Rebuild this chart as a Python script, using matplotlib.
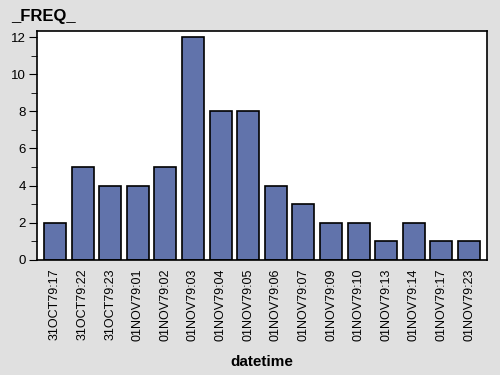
import matplotlib.pyplot as plt
from matplotlib.ticker import MultipleLocator

plt.rcParams['font.family'] = ['Liberation Sans', 'DejaVu Sans']

labels = ["31OCT79:17", "31OCT79:22", "31OCT79:23", "01NOV79:01", "01NOV79:02",
          "01NOV79:03", "01NOV79:04", "01NOV79:05", "01NOV79:06", "01NOV79:07",
          "01NOV79:09", "01NOV79:10", "01NOV79:13", "01NOV79:14", "01NOV79:17",
          "01NOV79:23"]
freq = [2, 5, 4, 4, 5, 12, 8, 8, 4, 3, 2, 2, 1, 2, 1, 1]

fig = plt.figure(figsize=(5, 3.75), dpi=100, facecolor="#E0E0E0")
ax = fig.add_axes([0.074, 0.307, 0.9, 0.61])
ax.set_facecolor("white")

x = range(len(labels))
ax.bar(x, freq, width=0.8, color="#6173AB", edgecolor="black", linewidth=1.2)

ax.set_xlim(-0.65, len(labels) - 0.35)
ax.set_ylim(0, 12.32)
ax.set_xticks(list(x))
ax.set_xticklabels(labels, rotation=90, fontsize=9)
ax.tick_params(axis="x", length=0, pad=6)
ax.yaxis.set_major_locator(MultipleLocator(2))
ax.yaxis.set_minor_locator(MultipleLocator(1))
ax.tick_params(axis="y", which="major", length=6, labelsize=9.5, pad=2)
ax.tick_params(axis="y", which="minor", length=4)
for s in ax.spines.values():
    s.set_linewidth(1.2)

ax.set_xlabel("datetime", fontsize=11, fontweight="bold", labelpad=10)
fig.text(0.022, 0.955, "_FREQ_", fontsize=12, fontweight="bold", va="center")

fig.savefig("out.png", dpi=100, facecolor=fig.get_facecolor())
